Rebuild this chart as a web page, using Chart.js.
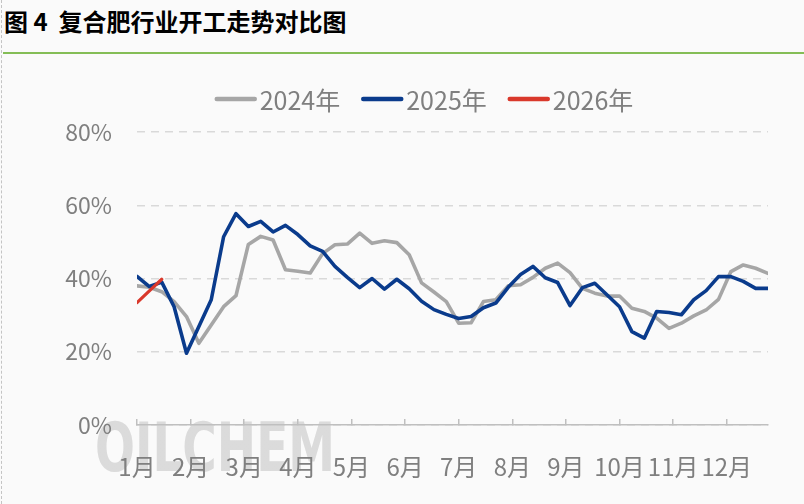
<!DOCTYPE html>
<html>
<head>
<meta charset="utf-8">
<script src="https://cdn.jsdelivr.net/npm/chart.js@4.4.1/dist/chart.umd.min.js"></script>
<style>
  html, body { margin: 0; padding: 0; background: #fafafa; }
  #wrap { position: relative; width: 804px; height: 504px; overflow: hidden; }
  #title { position: absolute; left: 4px; top: 5px; font: bold 24px "Noto Sans CJK SC", sans-serif; color: #000; white-space: pre; line-height: 32px; }
  #rule { position: absolute; left: 3px; right: 0; top: 52px; height: 1.5px; background: #84bd56; }
  #edge { position: absolute; left: 1px; top: 0; bottom: 0; border-left: 1px dashed #c4c4c4; }
  canvas { position: absolute; left: 0; top: 0; }
</style>
</head>
<body>
<div id="wrap">
  <div id="edge"></div>
  <div id="title">图 4  复合肥行业开工走势对比图</div>
  <div id="rule"></div>
  <canvas id="chart" width="804" height="504"></canvas>
</div>
<script>
// 周度开工率 (%), 每年 52 周
const monthLabels = ['1月', '2月', '3月', '4月', '5月', '6月', '7月', '8月', '9月', '10月', '11月', '12月'];
const seriesNames = ['2024年', '2025年', '2026年'];
const series2024 = [38.0, 37.6, 36.4, 33.7, 29.6, 22.3, 27.3, 32.3, 35.3, 49.3, 51.5, 50.5, 42.4, 42.0, 41.5, 46.8,
  49.2, 49.4, 52.4, 49.6, 50.3, 49.8, 46.5, 38.8, 36.3, 33.7, 27.8, 27.9, 33.7, 34.2, 38.0, 38.3, 40.3, 42.8,
  44.2, 41.6, 37.3, 36.0, 35.2, 35.2, 31.9, 31.0, 29.2, 26.4, 27.8, 29.8, 31.4, 34.3, 41.9, 43.7, 42.8, 41.4];
const series2025 = [40.6, 37.8, 39.0, 32.3, 19.6, 26.9, 34.2, 51.4, 57.7, 54.2, 55.6, 52.7, 54.5, 52.0, 48.9, 47.4,
  43.3, 40.3, 37.5, 40.0, 37.1, 39.8, 37.2, 33.8, 31.5, 30.2, 29.1, 29.6, 32.0, 33.3, 37.6, 41.1, 43.3, 40.2,
  38.9, 32.6, 37.5, 38.7, 35.5, 32.3, 25.5, 23.7, 31.0, 30.7, 30.1, 34.2, 36.7, 40.5, 40.5, 39.2, 37.3, 37.3];
const series2026 = [33.4, 36.6, 39.8];
const weeksPerYear = 52;

const colors = ['#a6a6a6', '#0a3b8c', '#d9382b'];
const labelFont = '"Noto Sans CJK SC", sans-serif';

function toPoints(arr) {
  return arr.map((v, i) => ({ x: i, y: v }));
}

// 水印 + 自绘图例
const decor = {
  id: 'decor',
  beforeDraw(chart) {
    const ctx = chart.ctx;
    ctx.save();
    ctx.font = 'bold 68px "Liberation Sans Narrow", "DejaVu Sans Condensed", sans-serif';
    const w = ctx.measureText('OILCHEM').width;
    const g = ctx.createLinearGradient(0, 410, 0, 472);
    g.addColorStop(0, 'rgba(205,205,205,0.7)');
    g.addColorStop(1, 'rgba(235,235,235,0.4)');
    ctx.fillStyle = g;
    ctx.textBaseline = 'alphabetic';
    ctx.translate(95, 471);
    ctx.scale(240 / w, 1);
    ctx.fillText('OILCHEM', 0, 0);
    ctx.restore();
  },
  afterDraw(chart) {
    const ctx = chart.ctx;
    const sets = chart.data.datasets;
    ctx.save();
    ctx.font = '25px ' + labelFont;
    const lineW = 42, gap = 3, itemGap = 21;
    const widths = sets.map(d => lineW + gap + ctx.measureText(d.label).width);
    const total = widths.reduce((a, b) => a + b, 0) + itemGap * (sets.length - 1);
    let x = 424 - total / 2;
    const y = 99;
    sets.forEach((d, i) => {
      ctx.strokeStyle = d.borderColor;
      ctx.lineWidth = 4.5;
      ctx.lineCap = 'round';
      ctx.beginPath();
      ctx.moveTo(x + 2, y);
      ctx.lineTo(x + lineW - 2, y);
      ctx.stroke();
      ctx.fillStyle = '#7f7f7f';
      ctx.textBaseline = 'middle';
      ctx.fillText(d.label, x + lineW + gap, y + 1);
      x += widths[i] + itemGap;
    });
    ctx.restore();
  }
};

new Chart(document.getElementById('chart'), {
  type: 'line',
  data: {
    datasets: [
      { label: seriesNames[0], data: toPoints(series2024), borderColor: colors[0], borderWidth: 3.6, order: 3 },
      { label: seriesNames[1], data: toPoints(series2025), borderColor: colors[1], borderWidth: 3.6, order: 2 },
      { label: seriesNames[2], data: toPoints(series2026), borderColor: colors[2], borderWidth: 3.2, order: 1 }
    ]
  },
  plugins: [decor],
  options: {
    responsive: false,
    animation: false,
    layout: { padding: { top: 132, right: 36, left: 0, bottom: 0 } },
    elements: {
      point: { radius: 0 },
      line: { tension: 0, borderJoinStyle: 'round', borderCapStyle: 'round' }
    },
    plugins: { legend: { display: false }, tooltip: { enabled: false } },
    scales: {
      x: {
        type: 'linear',
        min: 0,
        max: weeksPerYear - 1,
        afterBuildTicks(scale) {
          scale.ticks = monthLabels.map((_, i) => ({ value: i * weeksPerYear / 12 }));
        },
        afterFit(scale) { scale.height = 79; },
        ticks: {
          autoSkip: false,
          maxRotation: 0,
          padding: 33,
          color: '#7f7f7f',
          font: { family: labelFont, size: 24 },
          callback: (v, i) => monthLabels[i]
        },
        grid: { display: true, drawOnChartArea: false, drawTicks: true, tickLength: -6, color: '#bfbfbf', lineWidth: 1.5 },
        border: { display: true, color: '#bfbfbf', width: 1.5 }
      },
      y: {
        min: 0,
        max: 80,
        afterFit(scale) { scale.width = 137; },
        ticks: {
          stepSize: 20,
          padding: 25,
          color: '#7f7f7f',
          font: { family: labelFont, size: 23 },
          callback: v => v + '%'
        },
        grid: { color: '#d9d9d9', lineWidth: 1.5, drawTicks: false },
        border: { display: false, dash: [8, 6] }
      }
    }
  }
});
</script>
</body>
</html>
